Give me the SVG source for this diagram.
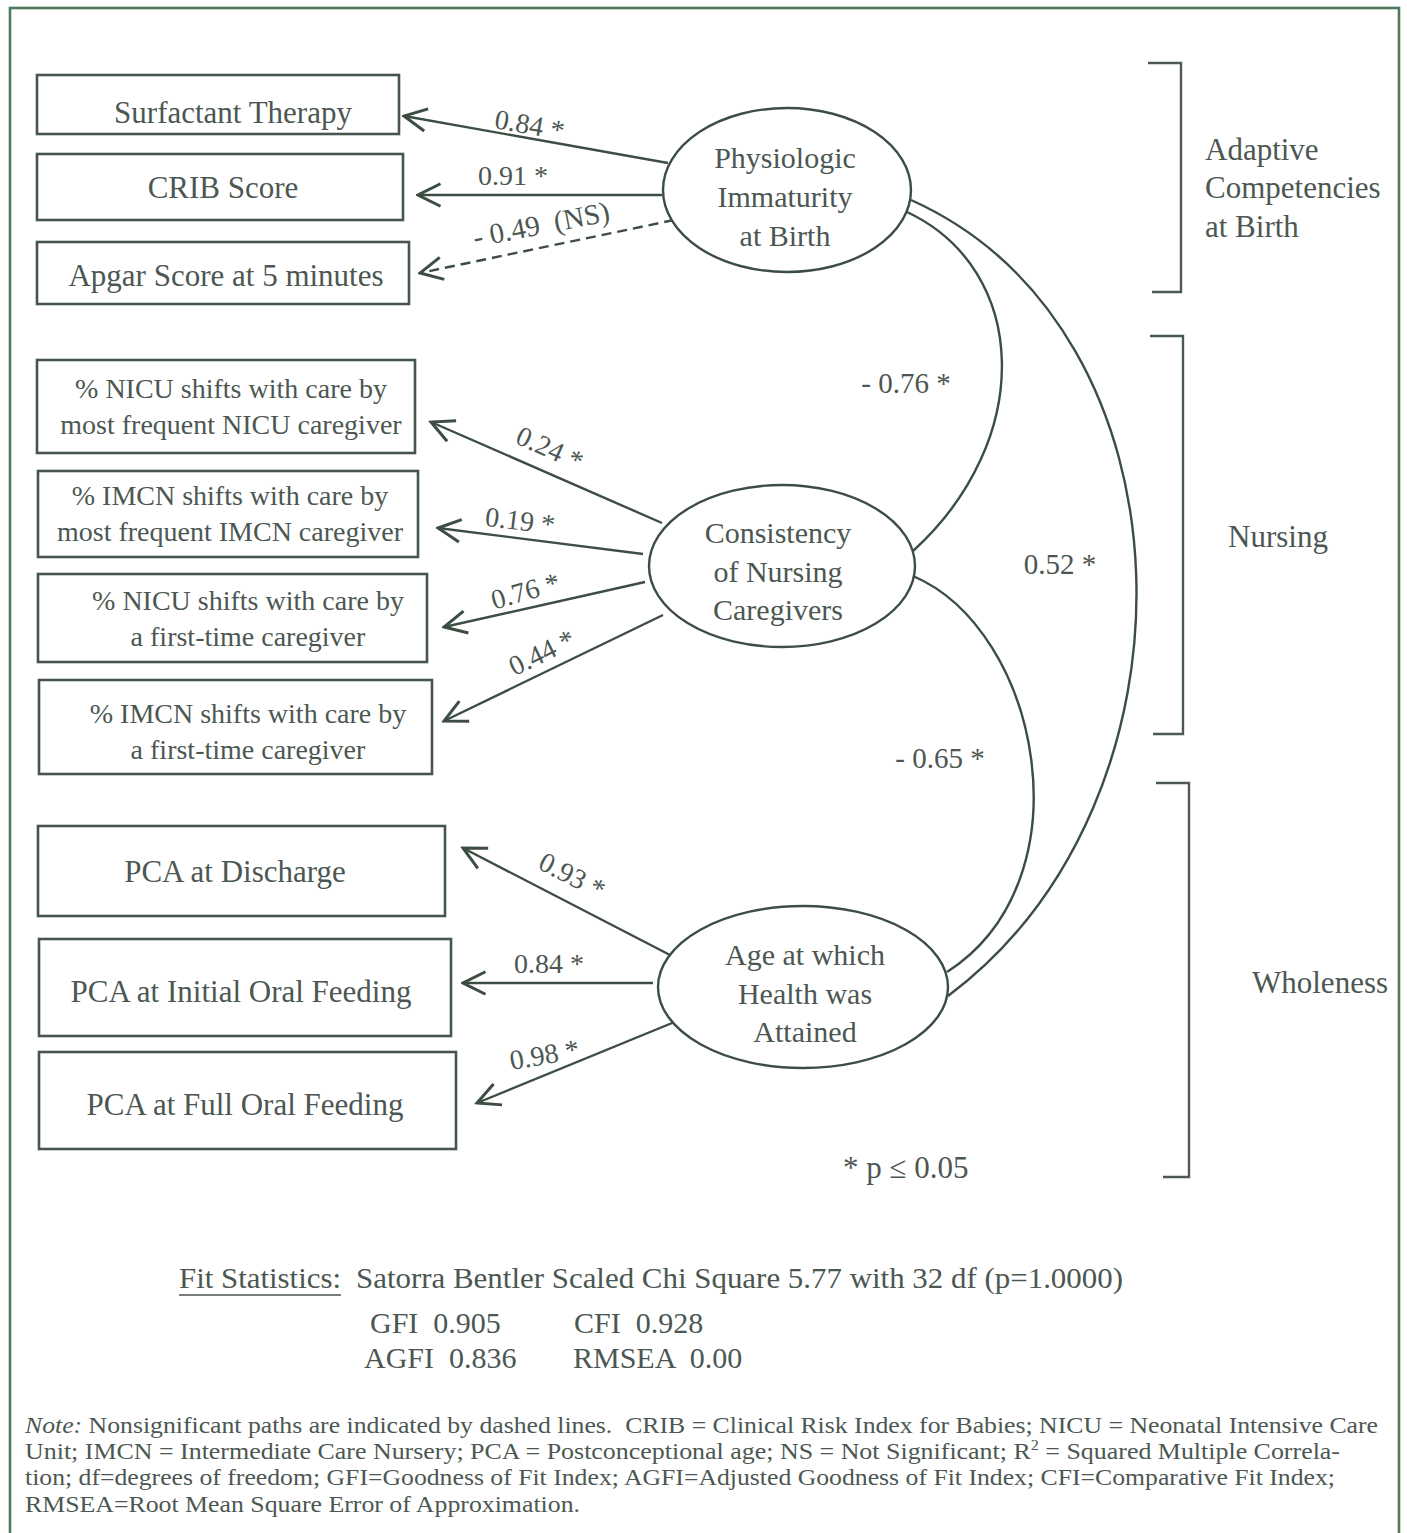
<svg xmlns="http://www.w3.org/2000/svg" width="1407" height="1533" viewBox="0 0 1407 1533">
<defs>
<style>
.t{font-family:"Liberation Serif","Times New Roman",serif;fill:#4c5752}
.box{fill:none;stroke:#46564d;stroke-width:2.6}
.ell{fill:#fff;stroke:#3c4d43;stroke-width:2.4}
.ln{fill:none;stroke:#3c4d43;stroke-width:2.4}
.br{fill:none;stroke:#4a5a52;stroke-width:2.4}
.m{text-anchor:middle}
</style>
<marker id="ah" markerUnits="userSpaceOnUse" markerWidth="30" markerHeight="30" viewBox="-22 -12 24 24" refX="0" refY="0" orient="auto">
<path d="M -18 -9 L 0 0 L -18 9" fill="none" stroke="#3c4d43" stroke-width="2.4"/>
</marker>
</defs>
<rect x="0" y="0" width="1407" height="1533" fill="#fff"/>
<rect x="10" y="8" width="1389" height="1545" fill="none" stroke="#4f7a5c" stroke-width="2.6"/>

<g id="connectors">
<line class="ln" x1="668" y1="163" x2="404" y2="116" marker-end="url(#ah)"/>
<line class="ln" x1="662" y1="195" x2="418" y2="195" marker-end="url(#ah)"/>
<line class="ln" x1="674" y1="220" x2="420" y2="273" stroke-dasharray="10 6" marker-end="url(#ah)"/>
<line class="ln" x1="662" y1="523" x2="431" y2="422" marker-end="url(#ah)"/>
<line class="ln" x1="643" y1="554" x2="438" y2="528" marker-end="url(#ah)"/>
<line class="ln" x1="645" y1="582" x2="444" y2="627" marker-end="url(#ah)"/>
<line class="ln" x1="663" y1="615" x2="444" y2="721" marker-end="url(#ah)"/>
<line class="ln" x1="670" y1="955" x2="463" y2="848" marker-end="url(#ah)"/>
<line class="ln" x1="653" y1="983" x2="463" y2="983" marker-end="url(#ah)"/>
<line class="ln" x1="677" y1="1021" x2="477" y2="1103" marker-end="url(#ah)"/>
<path class="ln" d="M 907 212 C 1030 270, 1035 440, 913 551"/>
<path class="ln" d="M 911 200 C 1200 330, 1210 800, 948 996"/>
<path class="ln" d="M 913 576 C 1040 630, 1090 880, 947 972"/>
<g class="t" font-size="28">
<text transform="translate(528 134) rotate(10)" class="m">0.84 *</text>
<text x="513" y="185" class="m">0.91 *</text>
<text transform="translate(543 234) rotate(-11)" class="m" font-size="29" xml:space="preserve">- 0.49  (NS)</text>
<text transform="translate(546 457) rotate(24)" class="m">0.24 *</text>
<text transform="translate(519 530) rotate(7)" class="m">0.19 *</text>
<text transform="translate(528 600) rotate(-16)" class="m">0.76 *</text>
<text transform="translate(546 661) rotate(-26)" class="m">0.44 *</text>
<text transform="translate(568 884) rotate(27)" class="m">0.93 *</text>
<text x="549" y="973" class="m">0.84 *</text>
<text transform="translate(546 1064) rotate(-10)" class="m">0.98 *</text>
</g>
<g class="t" font-size="29">
<text x="906" y="393" class="m">- 0.76 *</text>
<text x="1060" y="574" class="m">0.52 *</text>
<text x="940" y="768" class="m">- 0.65 *</text>
</g>
</g>

<g id="n-surfactant"><rect class="box" x="37" y="75" width="362" height="59"/><text class="t m" x="233" y="123" font-size="31">Surfactant Therapy</text></g>
<g id="n-crib"><rect class="box" x="37" y="154" width="366" height="66"/><text class="t m" x="223" y="198" font-size="31">CRIB Score</text></g>
<g id="n-apgar"><rect class="box" x="37" y="242" width="372" height="62"/><text class="t m" x="226" y="286" font-size="31">Apgar Score at 5 minutes</text></g>

<g id="n-nicu-freq"><rect class="box" x="37" y="360" width="378" height="93"/>
<text class="t m" font-size="28"><tspan x="231" y="398">% NICU shifts with care by</tspan><tspan x="231" y="434">most frequent NICU caregiver</tspan></text></g>
<g id="n-imcn-freq"><rect class="box" x="38" y="471" width="380" height="86"/>
<text class="t m" font-size="28"><tspan x="230" y="505">% IMCN shifts with care by</tspan><tspan x="230" y="541">most frequent IMCN caregiver</tspan></text></g>
<g id="n-nicu-first"><rect class="box" x="38" y="574" width="389" height="88"/>
<text class="t m" font-size="28"><tspan x="248" y="610">% NICU shifts with care by</tspan><tspan x="248" y="646">a first-time caregiver</tspan></text></g>
<g id="n-imcn-first"><rect class="box" x="39" y="680" width="393" height="94"/>
<text class="t m" font-size="28"><tspan x="248" y="723">% IMCN shifts with care by</tspan><tspan x="248" y="759">a first-time caregiver</tspan></text></g>

<g id="n-pca-discharge"><rect class="box" x="38" y="826" width="407" height="90"/><text class="t m" x="235" y="882" font-size="31">PCA at Discharge</text></g>
<g id="n-pca-initial"><rect class="box" x="39" y="939" width="412" height="97"/><text class="t m" x="241" y="1002" font-size="31">PCA at Initial Oral Feeding</text></g>
<g id="n-pca-full"><rect class="box" x="39" y="1052" width="417" height="97"/><text class="t m" x="245" y="1115" font-size="31">PCA at Full Oral Feeding</text></g>

<g id="n-physiologic"><ellipse class="ell" cx="787" cy="190" rx="124" ry="82"/>
<text class="t m" font-size="30"><tspan x="785" y="168">Physiologic</tspan><tspan x="785" y="207">Immaturity</tspan><tspan x="785" y="246">at Birth</tspan></text></g>
<g id="n-consistency"><ellipse class="ell" cx="782" cy="566" rx="133" ry="81"/>
<text class="t m" font-size="30"><tspan x="778" y="543">Consistency</tspan><tspan x="778" y="582">of Nursing</tspan><tspan x="778" y="620">Caregivers</tspan></text></g>
<g id="n-age"><ellipse class="ell" cx="803" cy="987" rx="145" ry="81"/>
<text class="t m" font-size="30"><tspan x="805" y="965">Age at which</tspan><tspan x="805" y="1004">Health was</tspan><tspan x="805" y="1042">Attained</tspan></text></g>

<g id="bracket-adaptive"><path class="br" d="M 1148 63 H 1181 V 292 H 1152"/>
<text class="t" font-size="31"><tspan x="1205" y="160">Adaptive</tspan><tspan x="1205" y="198">Competencies</tspan><tspan x="1205" y="237">at Birth</tspan></text></g>
<g id="bracket-nursing"><path class="br" d="M 1150 336 H 1183 V 734 H 1153"/>
<text class="t" x="1228" y="547" font-size="31">Nursing</text></g>
<g id="bracket-wholeness"><path class="br" d="M 1156 783 H 1189 V 1177 H 1163"/>
<text class="t" x="1252" y="993" font-size="31">Wholeness</text></g>

<text class="t" x="843" y="1178" font-size="31">* p ≤ 0.05</text>

<g id="fit-statistics" class="t" font-size="30">
<text x="179" y="1288" textLength="162" lengthAdjust="spacingAndGlyphs">Fit Statistics:</text>
<line x1="179" y1="1295" x2="341" y2="1295" stroke="#4c5752" stroke-width="1.6"/>
<text x="356" y="1288" textLength="767" lengthAdjust="spacingAndGlyphs">Satorra Bentler Scaled Chi Square 5.77 with 32 df (p=1.0000)</text>
<text x="370" y="1333" xml:space="preserve">GFI  0.905</text>
<text x="574" y="1333" xml:space="preserve">CFI  0.928</text>
<text x="364" y="1368" xml:space="preserve">AGFI  0.836</text>
<text x="573" y="1368" xml:space="preserve">RMSEA  0.00</text>
</g>

<g id="note" class="t" font-size="24">
<text x="25" y="1433" textLength="1353" lengthAdjust="spacingAndGlyphs" xml:space="preserve"><tspan font-style="italic">Note:</tspan> Nonsignificant paths are indicated by dashed lines.  CRIB = Clinical Risk Index for Babies; NICU = Neonatal Intensive Care</text>
<text x="25" y="1459" textLength="1315" lengthAdjust="spacingAndGlyphs">Unit; IMCN = Intermediate Care Nursery; PCA = Postconceptional age; NS = Not Significant; R<tspan font-size="15" dy="-9">2</tspan><tspan dy="9"> = Squared Multiple Correla-</tspan></text>
<text x="25" y="1485" textLength="1310" lengthAdjust="spacingAndGlyphs">tion; df=degrees of freedom; GFI=Goodness of Fit Index; AGFI=Adjusted Goodness of Fit Index; CFI=Comparative Fit Index;</text>
<text x="25" y="1512" textLength="555" lengthAdjust="spacingAndGlyphs">RMSEA=Root Mean Square Error of Approximation.</text>
</g>
</svg>
